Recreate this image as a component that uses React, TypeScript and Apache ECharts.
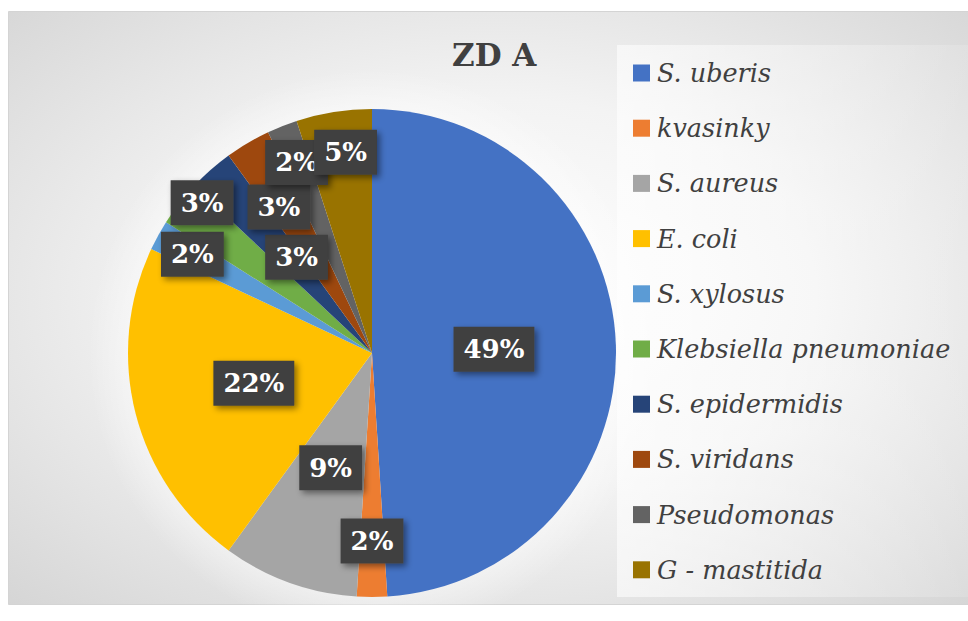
import React, { useEffect, useRef } from 'react';
import * as echarts from 'echarts';

const chartTitle = 'ZD A';
const categories = [
  'S. uberis',
  'kvasinky',
  'S. aureus',
  'E. coli',
  'S. xylosus',
  'Klebsiella pneumoniae',
  'S. epidermidis',
  'S. viridans',
  'Pseudomonas',
  'G - mastitida',
];
const values = [49, 2, 9, 22, 2, 3, 3, 3, 2, 5];
const colors = ['#4472C4', '#ED7D31', '#A5A5A5', '#FFC000', '#5B9BD5', '#70AD47', '#264478', '#9E480E', '#636363', '#997300'];
// label placement (fraction of radius, angle shift in degrees) - styling only
const labelRadius = [0.5, 0.77, 0.5, 0.5, 0.84, 0.93, 0.5, 0.71, 0.84, 0.83];
const labelAngleShift = [0, 0, 0, 0, 0, 3.7, 3.2, -1.9, 0, 1.5];

const W = 968;
const H = 621;
const CX = 372;
const CY = 353;
const R = 244;
const FONT = 'DejaVu Serif';

export default function App() {
  const ref = useRef<HTMLDivElement>(null);
  useEffect(() => {
    if (!ref.current) return;
    const chart = echarts.init(ref.current, undefined, { renderer: 'svg', width: W, height: H });
    const total = values.reduce((a, b) => a + b, 0);
    const option: any = {
      animation: false,
      graphic: [
        {
          type: 'rect',
          z: -10,
          silent: true,
          shape: { x: 8.5, y: 11.5, width: 970, height: 593 },
          style: {
            fill: new echarts.graphic.RadialGradient(0.5, 0.48, 0.95, [
              { offset: 0, color: '#ffffff' },
              { offset: 0.35, color: '#f3f3f3' },
              { offset: 1, color: '#c4c4c4' },
            ]),
            stroke: '#d4d4d4',
            lineWidth: 1,
          },
        },
        {
          type: 'circle',
          z: -9,
          silent: true,
          shape: { cx: CX, cy: CY, r: R + 40 },
          style: {
            fill: new echarts.graphic.RadialGradient(0.5, 0.5, 0.5, [
              { offset: 0.8, color: 'rgba(255,255,255,0.55)' },
              { offset: 1, color: 'rgba(255,255,255,0)' },
            ]),
          },
        },
        {
          type: 'rect',
          z: -8,
          silent: true,
          shape: { x: 617, y: 45, width: 360, height: 552 },
          style: {
            fill: new echarts.graphic.LinearGradient(0, 0, 1, 0, [
              { offset: 0, color: 'rgba(255,255,255,0.6)' },
              { offset: 1, color: 'rgba(255,255,255,0.12)' },
            ]),
          },
        },
      ],
      title: {
        text: chartTitle,
        left: 452,
        top: 36,
        padding: 0,
        textStyle: { fontFamily: FONT, fontWeight: 'bold', fontSize: 31, lineHeight: 38, color: '#404040' },
      },
      legend: {
        orient: 'vertical',
        left: 633,
        top: 56,
        padding: 0,
        icon: 'rect',
        itemWidth: 17,
        itemHeight: 17,
        itemGap: 21.2,
        data: categories,
        textStyle: {
          fontFamily: FONT,
          fontStyle: 'italic',
          fontSize: 25.5,
          lineHeight: 34,
          color: '#404040',
          padding: [0, 0, 0, 2],
        },
        selectedMode: false,
      },
      series: [
        {
          type: 'pie',
          center: [CX, CY],
          radius: R,
          startAngle: 90,
          clockwise: true,
          avoidLabelOverlap: false,
          emphasis: { disabled: true },
          itemStyle: { borderWidth: 0 },
          data: categories.map((name, i) => ({ name, value: values[i], itemStyle: { color: colors[i] } })),
          label: {
            show: true,
            position: 'inside',
            formatter: (p: any) => Math.round(p.percent) + '%',
            color: '#ffffff',
            fontFamily: FONT,
            fontWeight: 'bold',
            fontSize: 26,
            lineHeight: 33,
            backgroundColor: '#404040',
            padding: [6, 10, 6, 10],
            shadowColor: 'rgba(0,0,0,0.45)',
            shadowBlur: 6,
            shadowOffsetX: 3,
            shadowOffsetY: 3,
          },
          labelLine: { show: false },
          labelLayout: (params: any) => {
            const i = params.dataIndex;
            let cum = 0;
            for (let k = 0; k < i; k++) cum += values[k];
            const mid = ((cum + values[i] / 2) / total) * Math.PI * 2 + (labelAngleShift[i] * Math.PI) / 180;
            const r = R * labelRadius[i];
            return {
              x: CX + r * Math.sin(mid),
              y: CY - r * Math.cos(mid),
              align: 'center',
              verticalAlign: 'middle',
            };
          },
        },
      ],
    };
    chart.setOption(option);
    return () => chart.dispose();
  }, []);
  return <div ref={ref} style={{ position: 'absolute', left: 0, top: 0, width: W, height: H }} />;
}
